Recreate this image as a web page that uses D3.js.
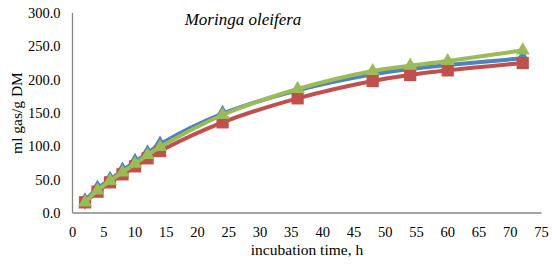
<!DOCTYPE html>
<html>
<head>
<meta charset="utf-8">
<script src="https://cdn.jsdelivr.net/npm/d3@7/dist/d3.min.js"></script>
</head>
<body style="margin:0">
<script>
var hours = [2, 4, 6, 8, 10, 12, 14, 24, 36, 48, 54, 60, 72];
var seriesBlue = [18, 37, 50, 64, 77, 90, 103, 149, 184, 208, 216, 222, 232];
var seriesRed = [16, 32, 46, 58, 70, 82, 93, 136, 172, 198, 207, 214, 225];
var seriesGreen = [16, 34, 48, 61, 74, 87, 99, 147, 186, 213, 221, 228, 244];
var xTicks = [0, 5, 10, 15, 20, 25, 30, 35, 40, 45, 50, 55, 60, 65, 70, 75];
var yTicks = [0, 50, 100, 150, 200, 250, 300];

var width = 552, height = 266;
var margin = {top: 13, right: 10, bottom: 53, left: 72.5};

var svg = d3.select('body').append('svg')
    .attr('width', width)
    .attr('height', height);

var x = d3.scaleLinear().domain([0, 75]).range([margin.left, 541.5]);
var y = d3.scaleLinear().domain([0, 300]).range([height - margin.bottom, margin.top]);

var series = [
  {values: seriesBlue, color: '#4F81BD', symbol: d3.symbolDiamond, size: 90},
  {values: seriesRed, color: '#C0504D', symbol: d3.symbolSquare, size: 150},
  {values: seriesGreen, color: '#9BBB59', symbol: d3.symbolTriangle, size: 85}
];

// plain text labels, serif font set on each element
function label(px, py, txt, size, anchor, italic) {
  return svg.append('text')
      .attr('x', px)
      .attr('y', py)
      .attr('font-family', 'Liberation Serif')
      .attr('font-size', size)
      .attr('font-style', italic ? 'italic' : null)
      .attr('text-anchor', anchor)
      .text(txt);
}

// axis lines, grey, no tick marks
svg.append('line')
    .attr('x1', x(0)).attr('x2', x(75))
    .attr('y1', y(0)).attr('y2', y(0))
    .attr('stroke', '#868686').attr('stroke-width', 1.3);
svg.append('line')
    .attr('x1', x(0)).attr('x2', x(0))
    .attr('y1', y(0)).attr('y2', y(300))
    .attr('stroke', '#868686').attr('stroke-width', 1.3);

xTicks.forEach(function(t) {
  label(x(t), y(0) + 24, String(t), 14.5, 'middle');
});
yTicks.forEach(function(t) {
  label(x(0) - 12, y(t) + 5, t.toFixed(1), 14.5, 'end');
});

var line = d3.line()
    .x(function(d) { return x(d[0]); })
    .y(function(d) { return y(d[1]); })
    .curve(d3.curveCatmullRom.alpha(0.5));

series.forEach(function(s) {
  var pts = hours.map(function(h, i) { return [h, s.values[i]]; });
  var g = svg.append('g');
  g.append('path')
      .datum(pts)
      .attr('fill', 'none')
      .attr('stroke', s.color)
      .attr('stroke-width', 4)
      .attr('d', line);
  g.selectAll('path.pt')
      .data(pts)
      .enter().append('path')
      .attr('class', 'pt')
      .attr('fill', s.color)
      .attr('transform', function(d) { return 'translate(' + x(d[0]) + ',' + y(d[1]) + ')'; })
      .attr('d', d3.symbol().type(s.symbol).size(s.size));
});

label(243, 25, 'Moringa oleifera', 17, 'middle', true);
label(307, 255, 'incubation time, h', 15.5, 'middle');
label(0, 0, 'ml gas/g DM', 15.5, 'middle')
    .attr('transform', 'translate(22,113) rotate(-90)');
</script>
</body>
</html>
